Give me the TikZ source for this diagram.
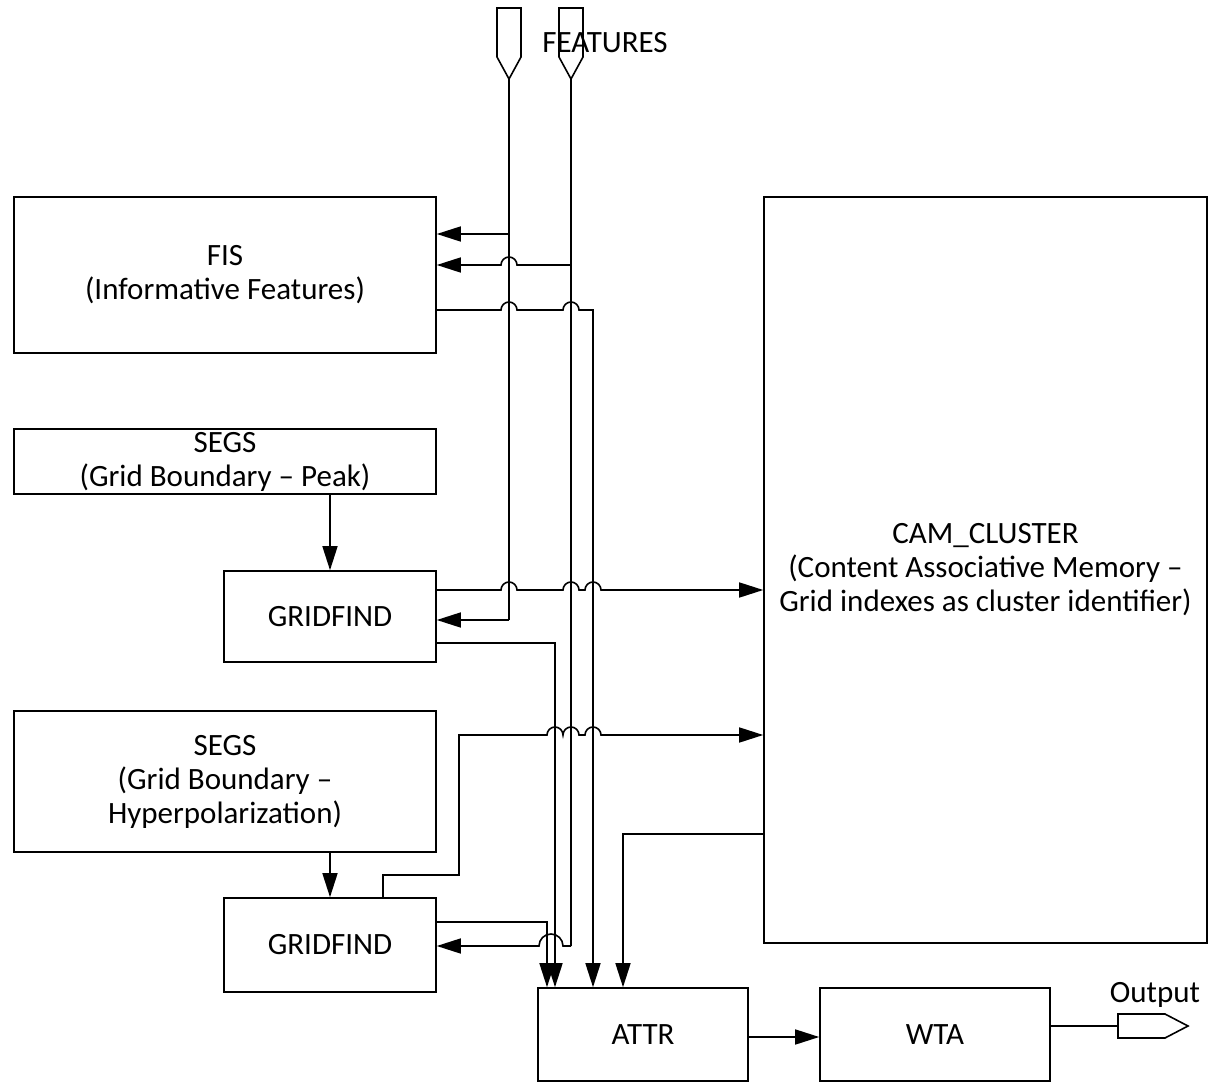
\documentclass[tikz,border=0pt]{standalone}
\usepackage{fontspec}
\setmainfont{Carlito}
\usetikzlibrary{arrows.meta}
\begin{document}
\begin{tikzpicture}[x=1pt,y=-1pt,
  ln/.style={line width=1.6pt, line join=miter},
  arr/.style={ln, -{Triangle[length=24pt,width=15pt]}},
  box/.style={draw, line width=1.6pt, inner sep=0pt, align=center,
     font=\fontsize{31}{34}\selectfont},
  lbl/.style={inner sep=0pt, font=\fontsize{31}{34}\selectfont}]
\useasboundingbox[fill=white] (0,0) rectangle (1208,1083);

% boxes
\node[box, minimum width=422pt, minimum height=156pt] (fis) at (225,275) {FIS\\(Informative Features)};
\node[box, minimum width=422pt, minimum height=65pt] (segs1) at (225,461.5) {SEGS\\(Grid Boundary -- Peak)};
\node[box, minimum width=212pt, minimum height=91pt] (gf1) at (330,616.5) {GRIDFIND};
\node[box, minimum width=422pt, minimum height=141pt] (segs2) at (225,781.5) {SEGS\\(Grid Boundary --\\Hyperpolarization)};
\node[box, minimum width=212pt, minimum height=94pt] (gf2) at (330,945) {GRIDFIND};
\node[box, minimum width=210pt, minimum height=93pt] (attr) at (643,1034.5) {ATTR};
\node[box, minimum width=230pt, minimum height=93pt] (wta) at (935,1034.5) {WTA};
\node[box, minimum width=443pt, minimum height=746pt] (cam) at (985.5,570)
  {CAM\_CLUSTER\\(Content Associative Memory --\\Grid indexes as cluster identifier)};

% labels
\node[lbl] (featlbl) at (605,43) {FEATURES};
\node[lbl] (outlbl) at (1155,995) {Output};

% input ports
\draw[ln] (497,8) -- (521,8) -- (521,57) -- (509,79) -- (497,57) -- cycle;
\coordinate (p1tip) at (509,79);
\draw[ln] (559,8) -- (583,8) -- (583,57) -- (571,79) -- (559,57) -- cycle;
\coordinate (p2tip) at (571,79);
% output port
\draw[ln] (1118,1014) -- (1165,1014) -- (1188,1026) -- (1165,1038) -- (1118,1038) -- cycle;
\coordinate (outport) at (1118,1026);

% junction coordinates
\coordinate (j1a) at (509,234);
\coordinate (j1b) at (509,620);
\coordinate (j2a) at (571,265);
\coordinate (j2b) at (571,946);

% feature bus 1
\draw[ln] (p1tip) -- (j1b);
\draw[arr] (j1b) -- (j1b -| gf1.east);
\draw[arr] (j1a) -- (j1a -| fis.east);
% feature bus 2
\draw[ln] (p2tip) -- (j2b);
\draw[arr] (j2a) -- (517,265) arc[start angle=0,end angle=180,radius=8pt] -- (j2a -| fis.east);
\draw[arr] (j2b) -- (563,946) arc[start angle=0,end angle=180,radius=12pt] -- (j2b -| gf2.east);

% FIS output to ATTR
\draw[arr] (fis.east |- 0,310) -- (501,310) arc[start angle=180,end angle=0,radius=8pt]
  -- (563,310) arc[start angle=180,end angle=0,radius=8pt] -- (593,310) -- (attr.north -| 593,0);

% GRIDFIND1 to CAM
\draw[arr] (gf1.east |- 0,590) -- (501,590) arc[start angle=180,end angle=0,radius=8pt]
  -- (563,590) arc[start angle=180,end angle=0,radius=8pt]
  -- (585,590) arc[start angle=180,end angle=0,radius=8pt] -- (cam.west |- 0,590);
% GRIDFIND1 to ATTR
\draw[arr] (gf1.east |- 0,643) -- (555,643) -- (attr.north -| 555,0);

% GRIDFIND2 to CAM
\draw[arr] (gf2.north -| 383,0) -- (383,875) -- (459,875) -- (459,735)
  -- (547,735) arc[start angle=180,end angle=0,radius=8pt]
  -- (563,735) arc[start angle=180,end angle=0,radius=8pt]
  -- (585,735) arc[start angle=180,end angle=0,radius=8pt] -- (cam.west |- 0,735);
% GRIDFIND2 to ATTR
\draw[arr] (gf2.east |- 0,922) -- (547,922) -- (attr.north -| 547,0);

% CAM to ATTR
\draw[arr] (cam.west |- 0,834) -- (623,834) -- (attr.north -| 623,0);

% SEGS to GRIDFIND
\draw[arr] (segs1.south -| 330,0) -- (gf1.north);
\draw[arr] (segs2.south -| 330,0) -- (gf2.north);

% ATTR to WTA, WTA to output
\draw[arr] (attr.east |- 0,1037) -- (wta.west |- 0,1037);
\draw[ln] (wta.east |- outport) -- (outport);
\end{tikzpicture}
\end{document}
